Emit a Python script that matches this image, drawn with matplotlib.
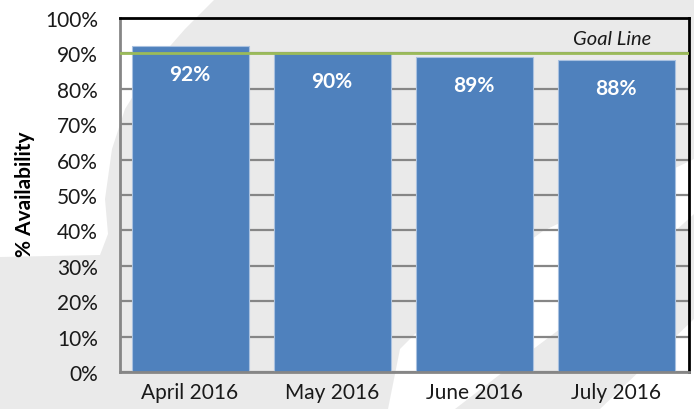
import matplotlib
matplotlib.use("Agg")
import matplotlib.pyplot as plt
from matplotlib.patches import Polygon

categories = ["April 2016", "May 2016", "June 2016", "July 2016"]
availability = [92, 90, 89, 88]
value_labels = ["92%", "90%", "89%", "88%"]
goal = 90
goal_label = "Goal Line"
y_ticks = [0, 10, 20, 30, 40, 50, 60, 70, 80, 90, 100]
y_label = "% Availability"

plt.rcParams['font.family'] = ['Lato', 'DejaVu Sans']

W, H = 694, 410
fig = plt.figure(figsize=(W / 100, H / 100), dpi=100, facecolor='#eaeaea')

# background axes for the faint watermark shapes
bg = fig.add_axes([0, 0, 1, 1], zorder=-10)
bg.set_xlim(0, W)
bg.set_ylim(H, 0)
bg.axis('off')
wm1 = [(0, 0), (215, 0), (185, 30), (150, 70), (125, 110), (112, 150), (105, 200),
       (108, 235), (100, 256), (0, 258)]
wm2 = [(388, 410), (400, 350), (450, 300), (543, 232), (694, 160), (694, 215),
       (600, 300), (520, 360), (455, 410)]
wm3 = [(600, 410), (694, 320), (694, 410)]
for poly in (wm1, wm2, wm3):
    bg.add_patch(Polygon(poly, closed=True, facecolor='white', edgecolor='none'))

ax = fig.add_axes([120 / W, 1 - 373 / H, (689 - 120) / W, (373 - 19) / H], zorder=1)
ax.set_facecolor('none')

x = list(range(len(categories)))
ax.bar(x, availability, width=0.824, color='#4f81bd', edgecolor='#a9c1e0',
       linewidth=0.8, zorder=2)

ax.axhline(goal, color='#9bbb59', linewidth=2, zorder=3)
ax.text(2.97, 94.2, goal_label, ha='center', va='center', fontsize=14.5,
        style='italic', color='#1a1a1a', zorder=4)

for xi, v, lab in zip(x, availability, value_labels):
    ax.text(xi, v - 7.9, lab, ha='center', va='center', fontsize=15,
            fontweight='bold', color='white', zorder=4)

ax.set_xlim(-0.493, 3.514)
ax.set_ylim(0, 100)
ax.set_yticks(y_ticks)
ax.set_yticklabels([f"{t}%" for t in y_ticks])
ax.set_xticks(x)
ax.set_xticklabels(categories)
ax.tick_params(axis='y', length=0, pad=16, labelsize=15, labelcolor='#1a1a1a')
ax.tick_params(axis='x', length=0, pad=7, labelsize=15, labelcolor='#1a1a1a')

ax.grid(axis='y', color='#868686', linewidth=1.6, zorder=1)
ax.set_axisbelow(True)

for s in ('left', 'bottom'):
    ax.spines[s].set_color('#868686')
    ax.spines[s].set_linewidth(2)
for s in ('top', 'right'):
    ax.spines[s].set_color('black')
    ax.spines[s].set_linewidth(2)

fig.text(25 / W, 1 - 194 / H, y_label, rotation=90, ha='center', va='center',
         fontsize=15, fontweight='bold', color='black')

fig.savefig("out.png", dpi=100, facecolor=fig.get_facecolor())
